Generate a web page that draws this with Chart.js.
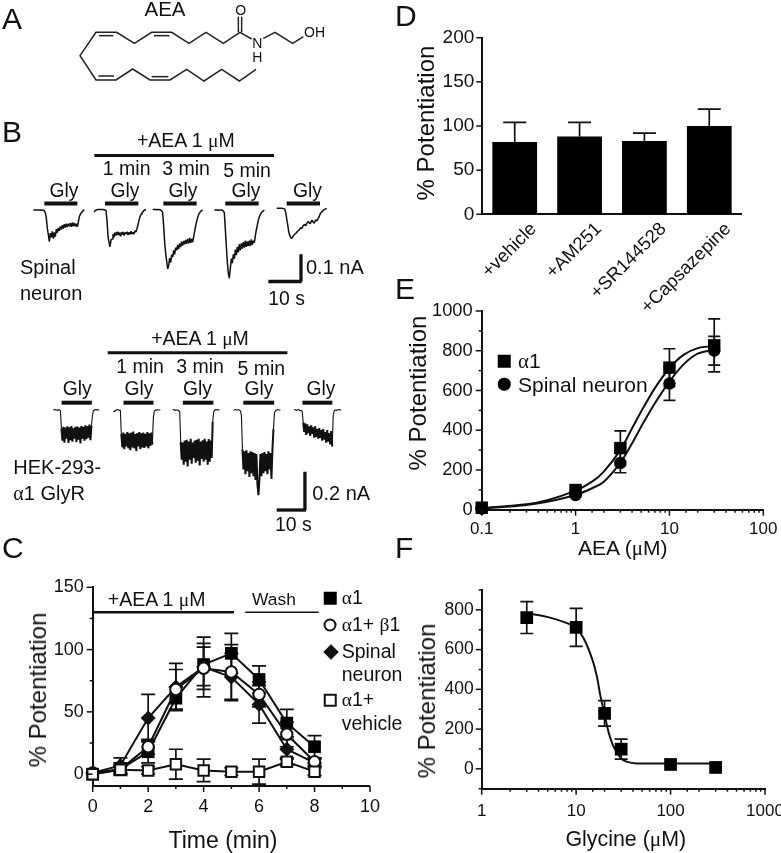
<!DOCTYPE html>
<html>
<head>
<meta charset="utf-8">
<script src="https://cdn.jsdelivr.net/npm/chart.js@4"></script>
<style>
body { margin: 0; background: #fff; overflow: hidden; }
#page { position: relative; width: 781px; height: 853px; overflow: hidden; font-family: "Liberation Sans", Arial, sans-serif; color: #111; filter: blur(0.3px); }
#page canvas { position: absolute; }
.lb { position: absolute; white-space: pre; line-height: 1; }
.g { font-family: "Liberation Serif", serif; font-style: normal; }
.mk { position: absolute; box-sizing: border-box; transform: translate(-50%, -50%); }
</style>
</head>
<body>
<div id="page"></div>
<script>
//---------------------------- data: A, molecule drawing units ----------------------------
const aeaChain = [[768,208],[718,243],[665,208],[612,243],[560,208],[510,240],[450,240],[398,207],[348,240],[288,240],[240,167],[288,97],[350,97],[403,130],[455,97],[515,97],[567,130],[618,97],[670,130],[720,97],[755,117]];
const aeaTail = [[790,115],[825,97],[878,130],[910,110]];
const aeaDoubles = [
    [[297,107],[340,107]], [[462,107],[508,107]], [[295,228],[342,228]], [[455,230],[505,230]],
    [[715,97],[715,50]], [[725,97],[725,50]]
];

//---------------------------- data: B, current traces (pA, sampled) ----------------------------
const spinalStart = [10, 28.2, 45.8, 64.3, 83];
const spinalBase = [0, 2, 2, 0, 6];
const spinalStep = 0.3;
const spinalTraces = [
    [0,0,0,0,0,0,0,0,0,1,1,3,10,30,67,90,116,85,100,78,105,82,98,70,84,66,76,60,72,56,68,52,64,50,62,50,60,48,62,46,60,48,60,50,62,44,24,16,10,6,2,0],
    [9,5,2,1,0,0,0,0,0,0,1,2,4,40,98,120,137,112,108,90,102,84,96,82,94,84,96,84,92,82,96,84,90,82,94,84,92,80,90,84,90,78,83,70,55,40,27,18,12,8,4,2,0],
    [0,0,0,0,1,0,0,1,2,5,12,60,122,160,189,218,205,178,195,165,175,150,165,140,150,130,145,125,138,118,132,115,128,112,126,108,124,104,122,108,120,100,79,60,43,30,18,12,7,4,2],
    [0,0,0,0,1,0,0,0,1,4,10,70,134,190,232,250,214,178,195,162,178,145,165,135,155,125,148,122,142,118,138,112,135,115,132,112,132,108,128,112,120,95,73,55,37,25,17,10,6,3,0],
    [0,0,0,0,0,0,1,1,2,15,37,60,85,98,107,110,104,100,95,92,88,84,81,76,71,74,67,62,59,64,56,50,49,56,54,44,46,54,51,42,46,40,34,25,17,13,10,6,4,2,0]
];
const spinalGly = [[13.3,23.2],[31.5,41.5],[49,59],[67.6,77.6],[86,96]];
const hekStart = [18.9, 40.1, 61.1, 82.6, 104.1];
const hekStep = 0.354;
const hekTraces = [
    [-2,0,-2,0,2,0,-2,4, 95,160,88,170,92,150,85,172,90,158,84,165,96,150,88,168,86,155,92,174,84,150,88,160,80,152,85,145,76,158,82, 30,4,0,-2,0,-2,0,0],
    [6,10,2,0,-2,0,2,0, 125,195,118,205,125,190,115,200,122,210,118,195,112,200,125,215,120,190,115,205,122,195,118,198,125,190,115,200,122,188,118,180, 40,6,0,2,-2,0,0,-1],
    [0,-2,0,2,0,0,4,8, 165,260,170,285,160,270,155,295,165,260,150,280,170,250,160,275,155,265,150,290,165,255,158,270,150,260,165,285,152,270,160,250, 60,10,0,-2,0,-2,0,0],
    [0,0,-2,0,0,-2,2,4,30, 205,310,215,335,210,320,225,350,215,330,220,345,225,365,230,390,444,360,230,345,225,330,220,320,230,335,215,310,225,360,205, 100,15,4,0,-2,0,0,0],
    [0,-2,2,0,-2,0,4,2,8, 65,115,70,130,75,120,85,135,80,125,90,145,85,140,100,150,95,145,105,160,100,155,115,170,105,165,120,180,110,190, 30,4,0,2,0,-2,0,-1,0]
];
const hekGly = [[21.8,32.5],[43.7,54.3],[64.7,75.5],[86.1,97],[107,117.6]];

//---------------------------- data: C ----------------------------
const timeMin = [0,1,2,3,4,5,6,7,8];
const a1Vals = [0,4,18,61,88,97,76,41,22];
const a1Err = [0,4,9,9,17,16,11,11,9];
const a1b1Vals = [1,4,22,68,85,82,64,32,10];
const a1b1Err = [0,5,6,16,17,22,10,10,3];
const spinalVals = [1,7,45,70,86,78,56,20,9];
const spinalErr = [0,6,19,19,24,19,15,8,3];
const vehicleVals = [0,3.5,3,8,3,2,2,10,2];
const vehicleErr = [0,3,3,12,9,3,10,3,3];

//---------------------------- data: D ----------------------------
const drugLabels = ['+vehicle','+AM251','+SR144528','+Capsazepine'];
const drugVals = [82,88,83,100];
const drugErr = [22,16,9,19];

//---------------------------- data: E ----------------------------
const aeaDose = [0.1,1,3,10,30];
const aeaA1 = [10,99,310,715,827];
const aeaA1Err = [8,15,87,95,133];
const aeaSpinal = [5,74,235,635,800];
const aeaSpinalErr = [5,10,49,85,72];
const aeaFitX = [0.1,0.3,0.5,1,1.5,2,3,4,5,7,10,14,20,30];
const aeaFitA1 = [8,28,48,96,141,192,300,410,494,612,712,778,813,825];
const aeaFitSpinal = [5,24,40,74,108,141,237,334,418,536,645,729,785,805];

//---------------------------- data: F ----------------------------
const glyDose = [3,10,20,30,100,300];
const glyVals = [761,712,279,99,22,7];
const glyErr = [80,96,64,50,0,0];
const glyFitX = [3,3.5,5.3,8,9.9,12,14.7,16.6,18,19.9,22,25,30,34.6,44,92,300];
const glyFitY = [778,778,761,733,712,657,556,464,371,279,187,111,52,35,27,27,27];

//---------------------------- helpers ----------------------------
const ink = '#111';
const page = document.getElementById('page');

function label(html, x, y, size, opt) {
    const o = opt || {};
    const d = document.createElement('div');
    d.className = 'lb';
    d.innerHTML = html;
    d.style.left = x + 'px';
    d.style.top = y + 'px';
    d.style.fontSize = size + 'px';
    if (o.rotate) d.style.transform = 'translate(-50%,-50%) rotate(-90deg)';
    else if (o.left) d.style.transform = 'translate(0,-50%)';
    else d.style.transform = 'translate(-50%,-50%)';
    page.appendChild(d);
}

function marker(x, y, css) {
    const d = document.createElement('div');
    d.className = 'mk';
    d.style.cssText = 'left:' + x + 'px;top:' + y + 'px;' + css;
    page.appendChild(d);
}

function xy(xs, ys) {
    return xs.map((x, i) => ({ x: x, y: ys[i] }));
}

function pairs(list) {
    return list.map(p => ({ x: p[0], y: p[1] }));
}

// long ticks where a label is shown, short ones elsewhere
const tickMarks = {
    id: 'tickMarks',
    afterDraw(chart) {
        const ctx = chart.ctx;
        ctx.save();
        ctx.strokeStyle = ink;
        ctx.lineWidth = 1.5;
        Object.values(chart.scales).forEach(s => {
            if (!s.options.display || s.type === 'category') return;
            s.ticks.forEach(t => {
                if (t.value < s.min || t.value > s.max) return;
                const p = s.getPixelForValue(t.value);
                const len = t.label !== '' ? 6 : 3;
                ctx.beginPath();
                if (s.isHorizontal()) {
                    ctx.moveTo(p, s.top);
                    ctx.lineTo(p, s.top + len);
                } else {
                    ctx.moveTo(s.right, p);
                    ctx.lineTo(s.right - len, p);
                }
                ctx.stroke();
            });
        });
        ctx.restore();
    }
};

const errorBars = {
    id: 'errorBars',
    beforeDatasetsDraw(chart) {
        const ctx = chart.ctx;
        const y = chart.scales.y;
        ctx.save();
        ctx.strokeStyle = ink;
        ctx.lineWidth = 1.7;
        chart.data.datasets.forEach((ds, i) => {
            if (!ds.err) return;
            const meta = chart.getDatasetMeta(i);
            const cap = ds.cap / 2;
            meta.data.forEach((el, k) => {
                if (!ds.err[k]) return;
                const v = meta.controller.getParsed(k).y;
                const top = y.getPixelForValue(v + ds.err[k]);
                const bot = ds.upOnly ? y.getPixelForValue(v) : y.getPixelForValue(v - ds.err[k]);
                ctx.beginPath();
                ctx.moveTo(el.x, bot);
                ctx.lineTo(el.x, top);
                ctx.moveTo(el.x - cap, top);
                ctx.lineTo(el.x + cap, top);
                if (!ds.upOnly) {
                    ctx.moveTo(el.x - cap, bot);
                    ctx.lineTo(el.x + cap, bot);
                }
                ctx.stroke();
            });
        });
        ctx.restore();
    }
};

function addChart(left, top, w, h, plot, config) {
    const c = document.createElement('canvas');
    c.width = w;
    c.height = h;
    c.style.left = left + 'px';
    c.style.top = top + 'px';
    c.style.width = w + 'px';
    c.style.height = h + 'px';
    page.appendChild(c);
    config.options = config.options || {};
    config.options.responsive = false;
    config.options.animation = false;
    config.options.plugins = { legend: { display: false }, tooltip: { enabled: false } };
    if (plot) {
        config.options.layout = { padding: { top: plot.t - top, right: left + w - plot.r, left: 0, bottom: 0 } };
        config.options.scales.x.afterFit = s => { s.height = top + h - plot.b; };
        config.options.scales.y.afterFit = s => { s.width = plot.l - left; };
    }
    return new Chart(c, config);
}

function valueAxis(extra, size, pad, cb, step) {
    return Object.assign({
        grid: { display: false, drawTicks: false },
        border: { display: true, width: 2, color: ink },
        ticks: { color: ink, padding: pad, font: { family: 'Liberation Sans', size: size }, autoSkip: false, maxRotation: 0, includeBounds: false, stepSize: step, callback: cb }
    }, extra);
}

function isDecade(v) {
    const l = Math.log10(v);
    return Math.abs(l - Math.round(l)) < 1e-9;
}

function decadeLabel(v) {
    return isDecade(v) ? (v < 1 ? '0.1' : String(Math.round(v))) : '';
}

function fitLine(data) {
    return { data: data, showLine: true, pointRadius: 0, borderColor: ink, borderWidth: 2, tension: 0.3, clip: false };
}

function seg(x0, x1, y, w) {
    return { data: [{ x: x0, y: y }, { x: x1, y: y }], showLine: true, pointRadius: 0, borderColor: ink, borderWidth: w, clip: false };
}

function sketchScales(xmin, xmax, ymin, ymax, rev) {
    return {
        x: { type: 'linear', display: false, min: xmin, max: xmax },
        y: { type: 'linear', display: false, min: ymin, max: ymax, reverse: !!rev }
    };
}

//---------------------------- A ----------------------------
const aeaBonds = [aeaChain, aeaTail].concat(aeaDoubles).map(b => ({
    data: pairs(b), showLine: true, pointRadius: 0, borderColor: '#222', borderWidth: 1.5, clip: false
}));
addChart(0, 0, 390, 110, null, {
    type: 'scatter',
    data: { datasets: aeaBonds },
    options: { scales: sketchScales(0, 1170, 0, 330, true) }
});
label('A', 2, 19, 30, { left: true });
label('AEA', 165, 9, 20.5);
label('O', 240.7, 10, 14);
label('N', 257.3, 42.7, 14);
label('H', 257.3, 56.7, 14);
label('OH', 304, 32.3, 14, { left: true });

//---------------------------- B, traces ----------------------------
const spinalSets = spinalTraces.map((tr, k) => ({
    data: tr.map((v, i) => ({ x: spinalStart[k] + i * spinalStep, y: spinalBase[k] - v })),
    showLine: true, pointRadius: 0, borderColor: ink, borderWidth: 1.5, borderJoinStyle: 'bevel'
}));
spinalGly.forEach(g => spinalSets.push(seg(g[0], g[1], 24, 4)));
spinalSets.push(seg(28.3, 82.2, 200, 3));
spinalSets.push(seg(80.5, 90.5, -262, 3.3));
spinalSets.push({ data: [{ x: 90.3, y: -162 }, { x: 90.3, y: -262 }], showLine: true, pointRadius: 0, borderColor: ink, borderWidth: 3.3 });
addChart(0, 145, 390, 160, null, {
    type: 'scatter',
    data: { datasets: spinalSets },
    options: { scales: sketchScales(0, 117, -348, 238) }
});

// the noisy plateau is drawn heavier than the quiet baseline
const hekSets = hekTraces.map((tr, k) => ({
    data: tr.map((v, i) => ({ x: hekStart[k] + i * hekStep, y: -v })),
    showLine: true, pointRadius: 0, borderColor: ink, borderWidth: 2, borderJoinStyle: 'bevel',
    segment: { borderWidth: c => (c.p0.parsed.y < -40 && c.p1.parsed.y < -40) ? 2 : 1.1 }
}));
hekGly.forEach(g => hekSets.push(seg(g[0], g[1], 38, 4)));
hekSets.push(seg(38.1, 101.7, 299, 3));
hekSets.push(seg(97.9, 108.3, -522, 3.3));
hekSets.push({ data: [{ x: 107.9, y: -322 }, { x: 107.9, y: -522 }], showLine: true, pointRadius: 0, borderColor: ink, borderWidth: 3.3 });
addChart(0, 345, 390, 175, null, {
    type: 'scatter',
    data: { datasets: hekSets },
    options: { scales: sketchScales(0, 138, -574, 339) }
});

const um = '<span class="g">&mu;</span>M';
const a = '<span class="g">&alpha;</span>';
const b = '<span class="g">&beta;</span>';
label('B', 2, 132, 30, { left: true });
label('+AEA 1 ' + um, 185.8, 141, 19.5);
[[126.7,169.3],[186,169.3],[247,171]].forEach((p, i) => label((i * 2 + 1) + ' min', p[0], p[1], 19.5));
[64,125,183,246,307.5].forEach(x => label('Gly', x, 191, 19.3));
label('Spinal', 20, 267.3, 20, { left: true });
label('neuron', 20, 293, 20, { left: true });
label('0.1 nA', 306, 267.3, 20, { left: true });
label('10 s', 268.3, 299.3, 19.4, { left: true });

label('+AEA 1 ' + um, 200, 339, 19.5);
[[140,366.7],[200,366.7],[261.3,369]].forEach((p, i) => label((i * 2 + 1) + ' min', p[0], p[1], 19.5));
[77.3,139,197.5,259,321].forEach(x => label('Gly', x, 389, 19.3));
label('HEK-293-', 13.3, 466.7, 20, { left: true });
label(a + '1 GlyR', 13.3, 493, 20, { left: true });
label('0.2 nA', 312.3, 493.3, 20, { left: true });
label('10 s', 275, 525, 19.4, { left: true });

//---------------------------- C ----------------------------
function timeSet(vals, err, style) {
    return Object.assign({
        data: xy(timeMin, vals), err: err, cap: 14, showLine: true, borderColor: ink, borderWidth: 2,
        pointBorderColor: ink, clip: false
    }, style);
}
addChart(45, 555, 345, 280, { l: 92.7, r: 370, t: 587.3, b: 786 }, {
    type: 'scatter',
    data: {
        datasets: [
            seg(0, 5.1, 130, 2.5),
            seg(5.5, 8.15, 130, 1.5),
            timeSet(vehicleVals, vehicleErr, { pointStyle: 'rect', pointRadius: 7.4, pointBackgroundColor: '#fff', pointBorderWidth: 2 }),
            timeSet(a1b1Vals, a1b1Err, { pointStyle: 'circle', pointRadius: 5.7, pointBackgroundColor: '#fff', pointBorderWidth: 2 }),
            timeSet(spinalVals, spinalErr, { pointStyle: 'rectRot', pointRadius: 7.5, pointBackgroundColor: ink, pointBorderWidth: 0 }),
            timeSet(a1Vals, a1Err, { pointStyle: 'rect', pointRadius: 9, pointBackgroundColor: '#000', pointBorderWidth: 0 })
        ]
    },
    options: {
        scales: {
            x: valueAxis({ type: 'linear', min: 0, max: 10 }, 18, 10, v => v % 2 === 0 ? String(v) : '', 1),
            y: valueAxis({ type: 'linear', min: -9.5, max: 150 }, 18, 9, v => v % 50 === 0 ? String(v) : '', 25)
        }
    },
    plugins: [errorBars, tickMarks]
});
label('C', 2, 548, 30, { left: true });
label('+AEA 1 ' + um, 156.7, 600, 19.5);
label('Wash', 274, 600, 17.4);
label('% Potentiation', 37.7, 690, 24, { rotate: true });
label('Time (min)', 223, 840, 23);
marker(330, 598, 'width:12.5px;height:12.5px;background:#000;');
marker(330, 625, 'width:13px;height:13px;border:2px solid #111;border-radius:50%;background:#fff;');
marker(330.5, 651.7, 'width:11px;height:11px;background:#111;transform:translate(-50%,-50%) rotate(45deg);');
marker(330, 700, 'width:12.5px;height:12.5px;border:2px solid #111;background:#fff;');
label(a + '1', 341.7, 598, 19.5, { left: true });
label(a + '1+ ' + b + '1', 341.7, 625, 19.5, { left: true });
label('Spinal', 341.7, 652, 19.5, { left: true });
label('neuron', 341.7, 675, 19.5, { left: true });
label(a + '1+', 341.7, 700, 19.5, { left: true });
label('vehicle', 341.7, 724, 19.5, { left: true });

//---------------------------- D ----------------------------
addChart(400, 10, 381, 310, { l: 482.3, r: 741.7, t: 37.7, b: 214.3 }, {
    type: 'bar',
    data: {
        labels: drugLabels,
        datasets: [{
            data: drugVals, err: drugErr, cap: 23, upOnly: true,
            backgroundColor: '#000', barPercentage: 1, categoryPercentage: 0.69
        }]
    },
    options: {
        scales: {
            x: {
                grid: { display: false, drawTicks: false },
                border: { display: true, width: 2, color: ink },
                ticks: { color: ink, padding: 4, labelOffset: 19, minRotation: 45, maxRotation: 45, autoSkip: false, font: { family: 'Liberation Sans', size: 18.5 } }
            },
            y: valueAxis({ type: 'linear', min: 0, max: 200 }, 19, 8, v => String(v), 50)
        }
    },
    plugins: [errorBars, tickMarks]
});
label('D', 395, 16, 30, { left: true });
label('% Potentiation', 425.7, 123, 24, { rotate: true });

//---------------------------- E ----------------------------
addChart(430, 285, 400, 255, { l: 481.7, r: 763.3, t: 311, b: 509.7 }, {
    type: 'scatter',
    data: {
        datasets: [
            { data: xy(aeaDose, aeaSpinal), err: aeaSpinalErr, cap: 12, pointStyle: 'circle', pointRadius: 6.2, pointBackgroundColor: '#000', pointBorderWidth: 0, clip: false },
            { data: xy(aeaDose, aeaA1), err: aeaA1Err, cap: 12, pointStyle: 'rect', pointRadius: 8.8, pointBackgroundColor: '#000', pointBorderWidth: 0, clip: false },
            fitLine(xy(aeaFitX, aeaFitA1)),
            fitLine(xy(aeaFitX, aeaFitSpinal))
        ]
    },
    options: {
        scales: {
            x: valueAxis({ type: 'logarithmic', min: 0.1, max: 100 }, 17, 9, decadeLabel),
            y: valueAxis({ type: 'linear', min: 0, max: 1000 }, 18.3, 9, v => v % 200 === 0 ? String(v) : '', 100)
        }
    },
    plugins: [errorBars, tickMarks]
});
label('E', 395, 288.5, 30, { left: true });
label('% Potentiation', 418, 392.5, 24, { rotate: true });
label('AEA (' + um + ')', 622.7, 548, 21);
marker(504.3, 361, 'width:12.5px;height:12.5px;background:#000;');
marker(504.3, 384, 'width:12.5px;height:12.5px;background:#000;border-radius:50%;');
label(a + '1', 518, 361, 21, { left: true });
label('Spinal neuron', 518, 384, 21, { left: true });

//---------------------------- F ----------------------------
addChart(430, 565, 400, 260, { l: 481.7, r: 765, t: 590, b: 788.7 }, {
    type: 'scatter',
    data: {
        datasets: [
            { data: xy(glyDose, glyVals), err: glyErr, cap: 13, pointStyle: 'rect', pointRadius: 9, pointBackgroundColor: '#000', pointBorderWidth: 0, clip: false },
            fitLine(xy(glyFitX, glyFitY))
        ]
    },
    options: {
        scales: {
            x: valueAxis({ type: 'logarithmic', min: 1, max: 1000 }, 17, 12, decadeLabel),
            y: valueAxis({ type: 'linear', min: -100, max: 900 }, 17.5, 8, v => (v >= 0 && v <= 800 && v % 200 === 0) ? String(v) : '', 100)
        }
    },
    plugins: [errorBars, tickMarks]
});
label('F', 395, 548, 30, { left: true });
label('% Potentiation', 426.7, 701, 24, { rotate: true });
label('Glycine (' + um + ')', 625.8, 840, 21.4);
</script>
</body>
</html>
